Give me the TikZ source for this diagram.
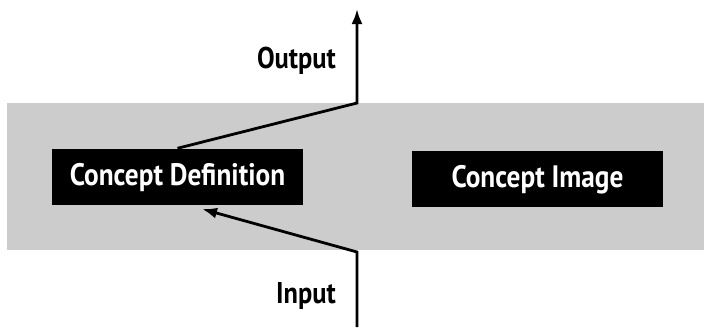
\documentclass[tikz,border=0pt]{standalone}
\usepackage{fontspec}
\setsansfont{PT Sans}[FakeStretch=0.88]
\usetikzlibrary{arrows.meta}
\begin{document}
\begin{tikzpicture}[x=1pt,y=-1pt,
  band/.style={fill=black!20,draw=none},
  conceptbox/.style={fill=black,draw=none,text=white,font=\sffamily\bfseries\fontsize{31}{35}\selectfont,minimum width=251pt,minimum height=56pt,inner sep=0pt,text height=17pt,text depth=0pt},
  flowlabel/.style={font=\sffamily\bfseries\fontsize{30}{34}\selectfont,inner sep=0pt},
  flow/.style={line width=2.8pt,line join=miter,-{Latex[length=15pt,width=11pt]}}]
\useasboundingbox (0,0) rectangle (704,327);
\fill[band] (7,103) rectangle (704,250);
\node[conceptbox] (def) at (177.5,176.5) {Concept Definition};
\node[conceptbox] (img) at (537.5,178.5) {Concept Image};
\coordinate (topcorner) at (357,103);
\coordinate (outtip) at (357,9);
\coordinate (botcorner) at (357,252);
\coordinate (inbot) at (357,327);
\coordinate (intip) at (202,209);
\node[flowlabel,anchor=base east] (outlab) at (336,68) {Output};
\node[flowlabel,anchor=base east] (inlab) at (336,303) {Input};
\draw[flow] (def.north) -- (topcorner) -- (outtip);
\draw[flow] (inbot) -- (botcorner) -- (intip);
\end{tikzpicture}
\end{document}
